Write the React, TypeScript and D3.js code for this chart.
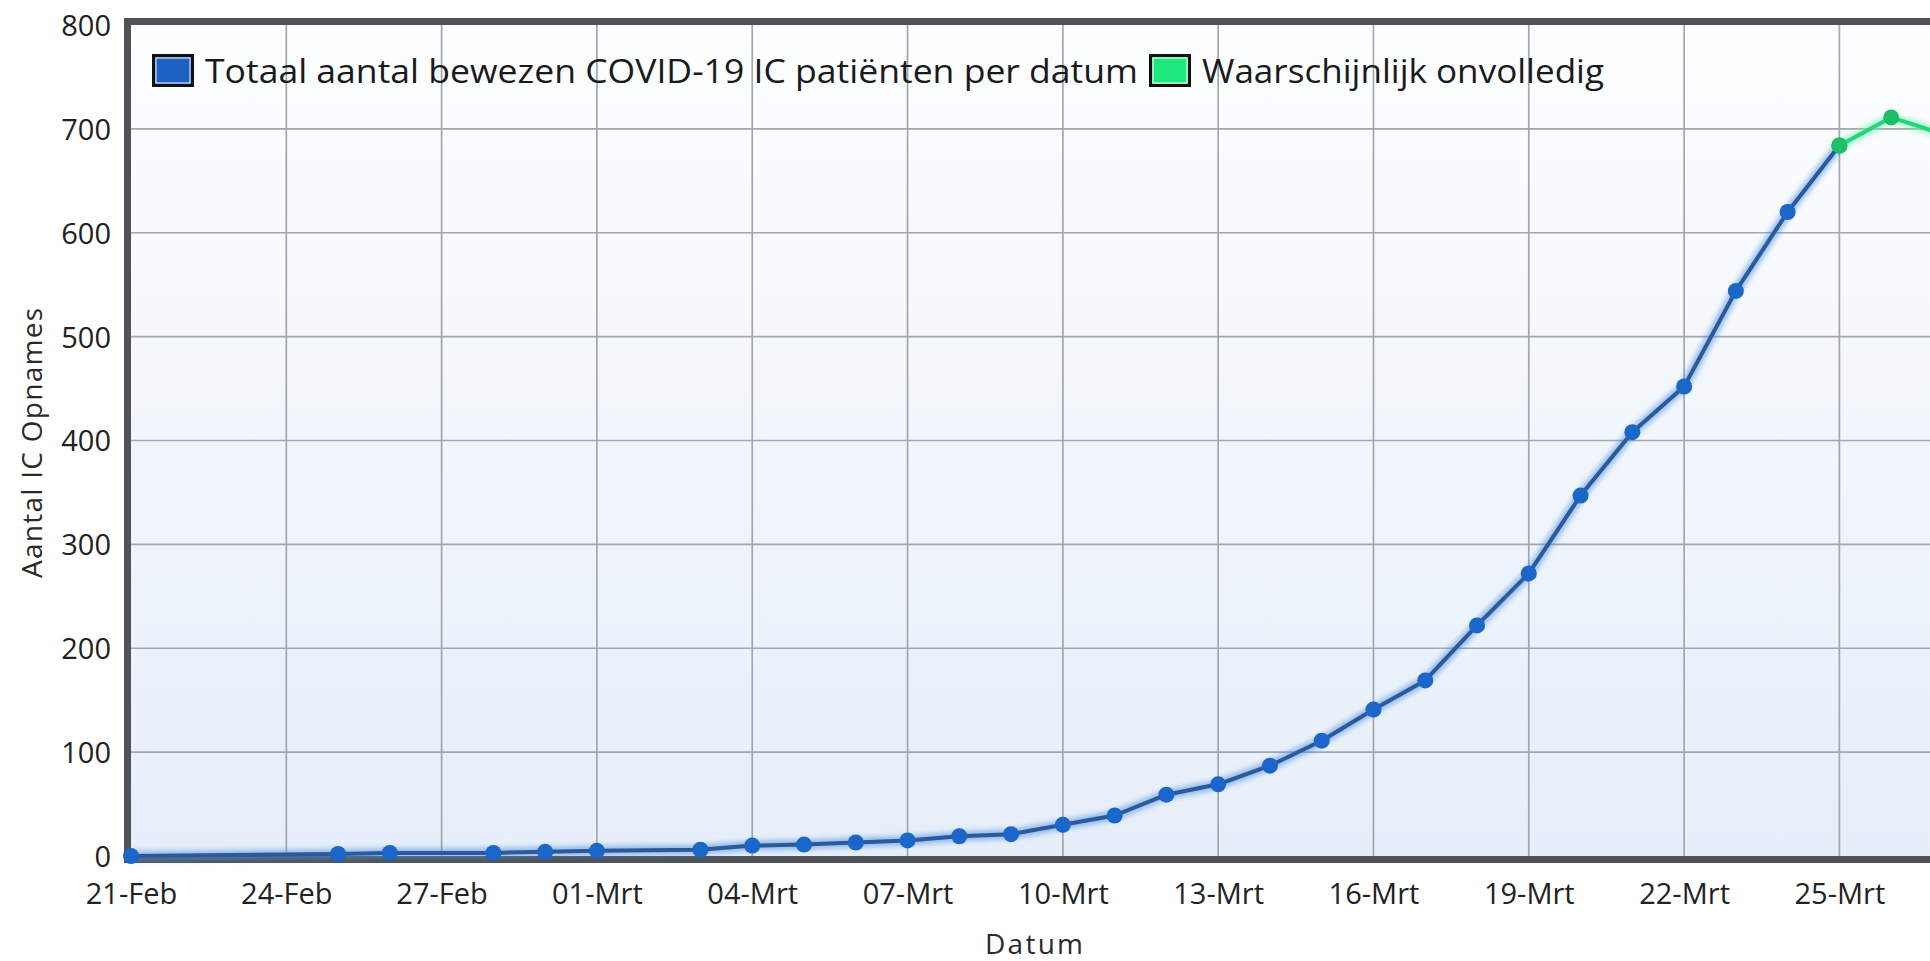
// App.tsx
import React, { useEffect, useRef } from 'react';
import * as d3 from 'd3';

// bewezen IC patienten (cumulatief) per datum
const blueDates = [
    '2020-02-21', '2020-02-25', '2020-02-26', '2020-02-28', '2020-02-29',
    '2020-03-01', '2020-03-03', '2020-03-04', '2020-03-05', '2020-03-06',
    '2020-03-07', '2020-03-08', '2020-03-09', '2020-03-10', '2020-03-11',
    '2020-03-12', '2020-03-13', '2020-03-14', '2020-03-15', '2020-03-16',
    '2020-03-17', '2020-03-18', '2020-03-19', '2020-03-20', '2020-03-21',
    '2020-03-22', '2020-03-23', '2020-03-24', '2020-03-25',
];
const blueValues = [
    0, 2, 3, 3, 4,
    5, 6, 10, 11, 13,
    15, 19, 21, 30, 39,
    59, 69, 87, 111, 141,
    169, 222, 272, 347, 408,
    452, 544, 620, 684,
];

// waarschijnlijk onvolledig
const greenDates = ['2020-03-25', '2020-03-26', '2020-03-27'];
const greenValues = [684, 711, 695];

const xTickLabels = [
    '21-Feb', '24-Feb', '27-Feb', '01-Mrt', '04-Mrt', '07-Mrt',
    '10-Mrt', '13-Mrt', '16-Mrt', '19-Mrt', '22-Mrt', '25-Mrt',
];
const yTicks = [0, 100, 200, 300, 400, 500, 600, 700, 800];

const legendLabels = ['Totaal aantal bewezen COVID-19 IC patiënten per datum', 'Waarschijnlijk onvolledig'];

export default function App() {
    const ref = useRef<SVGSVGElement>(null);

    useEffect(() => {
        drawChart();
        // eslint-disable-next-line
    }, []);

    function drawChart() {
        const W = 1930;
        const H = 961;
        const left = 131;
        const top = 25;
        const bottom = 856;
        const font = "'Open Sans', sans-serif";

        const parse = d3.utcParse('%Y-%m-%d');
        const start = parse('2020-02-21') as Date;
        const tickDates = xTickLabels.map((_, i) => d3.utcDay.offset(start, i * 3));

        const svg = d3.select(ref.current);
        svg.selectAll('*').remove();

        const x = d3
            .scaleUtc()
            .domain([start, tickDates[tickDates.length - 1]])
            .range([left, left + 33 * 51.77]);
        const y = d3.scaleLinear().domain([0, 800]).range([bottom, top]);

        const defs = svg.append('defs');
        const grad = defs
            .append('linearGradient')
            .attr('id', 'bg')
            .attr('x1', 0)
            .attr('y1', 0)
            .attr('x2', 0)
            .attr('y2', 1);
        grad.append('stop').attr('offset', '0%').attr('stop-color', '#fdfeff');
        grad.append('stop').attr('offset', '100%').attr('stop-color', '#e6eef9');

        defs.append('filter')
            .attr('id', 'glow')
            .attr('x', '-5%')
            .attr('y', '-5%')
            .attr('width', '110%')
            .attr('height', '110%')
            .append('feGaussianBlur')
            .attr('stdDeviation', 2.5);

        svg.append('rect').attr('width', W).attr('height', H).attr('fill', '#ffffff');

        // plot background
        svg.append('rect')
            .attr('x', left)
            .attr('y', top)
            .attr('width', W - left)
            .attr('height', bottom - top)
            .attr('fill', 'url(#bg)');

        // grid
        svg.append('g')
            .selectAll('line')
            .data(yTicks.slice(1, -1))
            .enter()
            .append('line')
            .attr('x1', left)
            .attr('x2', W)
            .attr('y1', (d) => y(d))
            .attr('y2', (d) => y(d))
            .attr('stroke', '#a2a6af')
            .attr('stroke-width', 1.7);

        svg.append('g')
            .selectAll('line')
            .data(tickDates.slice(1))
            .enter()
            .append('line')
            .attr('x1', (d) => x(d))
            .attr('x2', (d) => x(d))
            .attr('y1', top)
            .attr('y2', bottom)
            .attr('stroke', '#a2a6af')
            .attr('stroke-width', 1.7);

        // borders
        svg.append('rect').attr('x', left - 7).attr('y', top - 7).attr('width', W).attr('height', 7).attr('fill', '#4f5257');
        svg.append('rect').attr('x', left - 7).attr('y', top - 7).attr('width', 7).attr('height', bottom - top + 14).attr('fill', '#4f5257');
        svg.append('rect').attr('x', left - 7).attr('y', bottom).attr('width', W).attr('height', 7).attr('fill', '#4f5257');

        // y axis labels
        const yAxis = svg
            .append('g')
            .attr('transform', `translate(${left - 20},0)`)
            .call(d3.axisLeft(y).tickValues(yTicks).tickSize(0).tickPadding(0));
        yAxis.select('.domain').remove();
        yAxis.selectAll('text').attr('font-family', font).attr('font-size', 29).attr('fill', '#222').attr('dy', '0.36em');

        // x axis labels
        const xAxis = svg
            .append('g')
            .attr('transform', `translate(0,${bottom + 25})`)
            .call(
                d3
                    .axisBottom(x)
                    .tickValues(tickDates)
                    .tickFormat((d, i) => xTickLabels[i])
                    .tickSize(0)
                    .tickPadding(0),
            );
        xAxis.select('.domain').remove();
        xAxis.selectAll('text').attr('font-family', font).attr('font-size', 29).attr('fill', '#222').attr('dy', '0.8em');

        // axis titles
        svg.append('text')
            .attr('x', 1034)
            .attr('y', 943)
            .attr('text-anchor', 'middle')
            .attr('dominant-baseline', 'central')
            .attr('font-family', font)
            .attr('font-size', 28)
            .attr('fill', '#2a2a2a')
            .attr('textLength', 98)
            .text('Datum');

        svg.append('text')
            .attr('transform', 'translate(31,443) rotate(-90)')
            .attr('text-anchor', 'middle')
            .attr('dominant-baseline', 'central')
            .attr('font-family', font)
            .attr('font-size', 28)
            .attr('fill', '#2a2a2a')
            .attr('textLength', 270)
            .text('Aantal IC Opnames');

        // series
        const series = [
            { dates: blueDates, values: blueValues, line: '#2b5a9c', halo: '#4f8fe0', dot: '#1b66c9' },
            { dates: greenDates, values: greenValues, line: '#22d67a', halo: '#6ff0aa', dot: '#1cbf63' },
        ];

        const line = d3
            .line<[Date, number]>()
            .x((d) => x(d[0]))
            .y((d) => y(d[1]));

        series.forEach((s) => {
            const pts: [Date, number][] = s.dates.map((d, i) => [parse(d) as Date, s.values[i]]);
            const g = svg.append('g');
            g.append('path')
                .attr('d', line(pts))
                .attr('fill', 'none')
                .attr('stroke', s.halo)
                .attr('stroke-width', 10)
                .attr('opacity', 0.55)
                .attr('filter', 'url(#glow)');
            g.append('path')
                .attr('d', line(pts))
                .attr('fill', 'none')
                .attr('stroke', s.line)
                .attr('stroke-width', 4)
                .attr('stroke-linejoin', 'round');
            g.selectAll('circle')
                .data(pts)
                .enter()
                .append('circle')
                .attr('cx', (d) => x(d[0]))
                .attr('cy', (d) => y(d[1]))
                .attr('r', 8)
                .attr('fill', s.dot);
        });

        // legend
        const legendColors = ['#1d61c2', '#1fe87c'];
        const legendBoxX = [152, 1149];
        const legendTextX = [205, 1202];
        const legendTextLen = [933, 402];
        const lg = svg.append('g');
        legendLabels.forEach((label, i) => {
            lg.append('rect')
                .attr('x', legendBoxX[i] + 1.5)
                .attr('y', 55.5)
                .attr('width', 39)
                .attr('height', 30)
                .attr('fill', legendColors[i])
                .attr('stroke', '#111')
                .attr('stroke-width', 3);
            lg.append('rect')
                .attr('x', legendBoxX[i] + 4)
                .attr('y', 58)
                .attr('width', 34)
                .attr('height', 25)
                .attr('fill', 'none')
                .attr('stroke', '#ffffff')
                .attr('stroke-width', 1);
            lg.append('text')
                .attr('x', legendTextX[i])
                .attr('y', 70)
                .attr('dominant-baseline', 'central')
                .attr('font-family', font)
                .attr('font-size', 32)
                .attr('fill', '#1a1a1a')
                .attr('textLength', legendTextLen[i])
                .attr('lengthAdjust', 'spacingAndGlyphs')
                .text(label);
        });
    }

    return (
        <svg
            ref={ref}
            width={1930}
            height={961}
            style={{ position: 'absolute', left: 0, top: 0, display: 'block', overflow: 'hidden' }}
        />
    );
}
